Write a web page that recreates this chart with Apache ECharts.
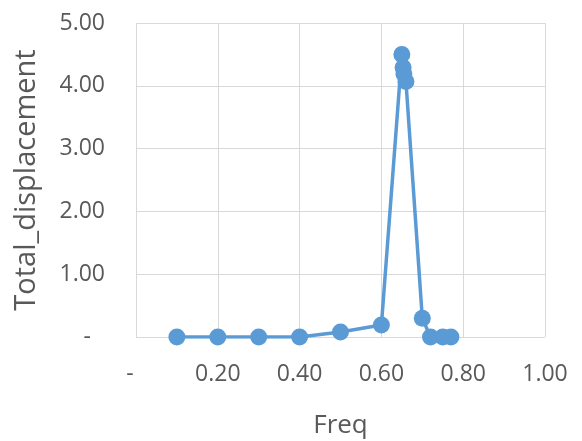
<!DOCTYPE html>
<html>
<head>
<meta charset="utf-8">
<script src="https://cdn.jsdelivr.net/npm/echarts@6/dist/echarts.min.js"></script>
<style>
  html, body { margin: 0; padding: 0; background: #fff; }
  #chart { width: 582px; height: 441px; }
</style>
</head>
<body>
<div id="chart"></div>
<script>
// Frequency sweep and the resulting total displacement
const freq = [0.10, 0.20, 0.30, 0.40, 0.50, 0.60, 0.650, 0.653, 0.655, 0.660, 0.70, 0.72, 0.75, 0.77];
const totalDisplacement = [0.00, 0.00, 0.00, 0.00, 0.08, 0.19, 4.50, 4.29, 4.19, 4.07, 0.30, 0.00, 0.00, 0.00];

// Axis ranges and tick spacing
const xTicks = { min: 0, max: 1, interval: 0.2 };
const yTicks = { min: 0, max: 5, interval: 1 };

const points = freq.map((f, i) => [f, totalDisplacement[i]]);

const FONT = 'Open Sans';
const TEXT = '#595959';
const GRID = '#D9D9D9';
const BLUE = '#5B9BD5';

// Accounting-style number format: zero shows as a dash
function acct(v) {
  return v === 0 ? '{z|-}' : v.toFixed(2);
}

const chart = echarts.init(document.getElementById('chart'), null, { renderer: 'canvas' });
chart.setOption({
  animation: false,
  backgroundColor: '#fff',
  grid: {
    left: 136, right: 37, top: 23, bottom: 104,
    containLabel: false,
    outerBoundsMode: 'none'
  },
  xAxis: {
    type: 'value',
    min: xTicks.min, max: xTicks.max, interval: xTicks.interval,
    name: 'Freq',
    nameLocation: 'middle',
    nameGap: 76,
    nameTextStyle: { fontFamily: FONT, fontSize: 26, color: TEXT },
    axisLine: { show: false },
    axisTick: { show: false },
    splitLine: { show: true, lineStyle: { color: GRID, width: 1 } },
    axisLabel: {
      formatter: acct,
      margin: 26,
      fontFamily: FONT, fontSize: 23, color: TEXT,
      rich: { z: { fontFamily: FONT, fontSize: 23, color: TEXT, padding: [0, 12, 0, 0] } }
    }
  },
  yAxis: {
    type: 'value',
    min: yTicks.min, max: yTicks.max, interval: yTicks.interval,
    name: 'Total_displacement',
    nameLocation: 'middle',
    nameGap: 95,
    nameTextStyle: { fontFamily: FONT, fontSize: 29, color: TEXT },
    axisLine: { show: false },
    axisTick: { show: false },
    splitLine: { show: true, lineStyle: { color: GRID, width: 1 } },
    axisLabel: {
      formatter: acct,
      margin: 31,
      fontFamily: FONT, fontSize: 23, color: TEXT,
      rich: { z: { fontFamily: FONT, fontSize: 23, color: TEXT, padding: [0, 14, 0, 0] } }
    }
  },
  series: [{
    type: 'line',
    data: points,
    symbol: 'circle',
    symbolSize: 17,
    showSymbol: true,
    lineStyle: { color: BLUE, width: 3.5 },
    itemStyle: { color: BLUE },
    z: 3
  }]
});
</script>
</body>
</html>
